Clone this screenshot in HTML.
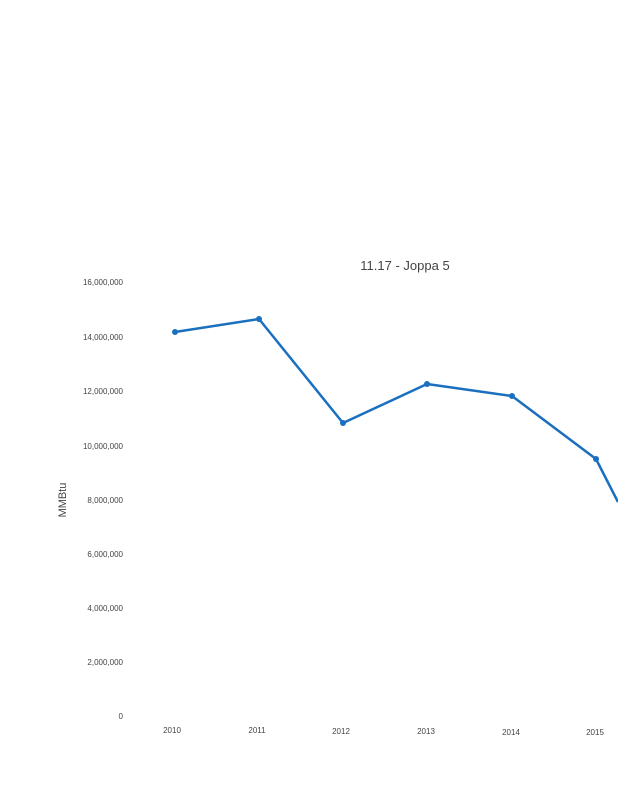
<!DOCTYPE html>
<html><head><meta charset="utf-8"><style>
html,body{margin:0;padding:0;background:#fff;width:618px;height:800px;overflow:hidden}
svg{display:block}
text{font-family:"Liberation Sans",sans-serif}
</style></head><body>
<svg width="618" height="800" viewBox="0 0 618 800">
<text x="405" y="270" font-size="13" text-anchor="middle" fill="#444">11.17 - Joppa 5</text>
<g font-size="8" fill="#444" text-anchor="end">
<text x="123" y="285">16,000,000</text>
<text x="123" y="340">14,000,000</text>
<text x="123" y="394">12,000,000</text>
<text x="123" y="449">10,000,000</text>
<text x="123" y="503">8,000,000</text>
<text x="123" y="557">6,000,000</text>
<text x="123" y="611">4,000,000</text>
<text x="123" y="665">2,000,000</text>
<text x="123" y="719">0</text>
</g>
<text transform="translate(66,500) rotate(-90)" font-size="11" fill="#444" text-anchor="middle">MMBtu</text>
<g font-size="8" fill="#444" text-anchor="middle">
<text x="172" y="733">2010</text>
<text x="257" y="733">2011</text>
<text x="341" y="734">2012</text>
<text x="426" y="734">2013</text>
<text x="511" y="735">2014</text>
<text x="595" y="735">2015</text>
</g>
<polyline points="175,332 259,319 343,423 427,384 512,396 596,459 618,502" fill="none" stroke="#1a6fbf" stroke-width="2.5" stroke-linejoin="round"/>
<g fill="#1a6fbf">
<circle cx="175" cy="332" r="3"/><circle cx="259" cy="319" r="3"/><circle cx="343" cy="423" r="3"/>
<circle cx="427" cy="384" r="3"/><circle cx="512" cy="396" r="3"/><circle cx="596" cy="459" r="3"/>
</g>
</svg>
</body></html>
